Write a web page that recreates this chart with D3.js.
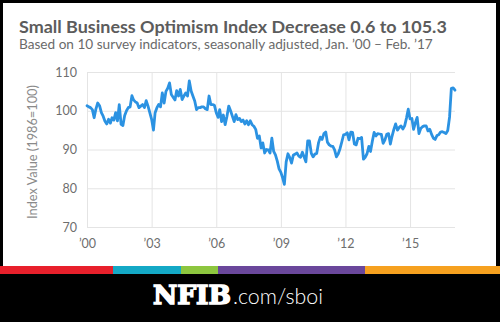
<!DOCTYPE html>
<html>
<head>
<meta charset="utf-8">
<script src="https://cdn.jsdelivr.net/npm/d3@7"></script>
<style>
  html, body { margin: 0; padding: 0; background: #000; }
  svg { display: block; }
</style>
</head>
<body>
<div id="chart"></div>
<script>
'use strict';

// Small Business Optimism Index (1986=100), seasonally adjusted, monthly from Jan 2000
var firstMonth = new Date(2000, 0, 1);
var sboi2000s = [
    101.3, 101.0, 100.8, 100.3, 98.2, 100.5, 102.0, 101.3, 99.5, 98.6, 97.3, 96.6,   // 2000
    97.8, 96.8, 98.2, 97.6, 99.5, 97.4, 101.6, 96.5, 96.2, 98.8, 100.0, 100.8,      // 2001
    101.0, 103.9, 102.8, 102.3, 102.0, 100.8, 101.2, 101.6, 100.8, 102.6, 101.2, 99.5, // 2002
    97.8, 95.0, 99.5, 100.8, 101.6, 101.0, 104.6, 102.0, 105.0, 105.8, 107.2, 104.2,  // 2003
    103.5, 102.8, 105.2, 103.8, 105.5, 102.9, 103.8, 104.6, 103.8, 107.7, 105.1, 103.8, // 2004
    102.5, 100.3, 100.8, 100.8, 101.0, 101.0, 100.5, 100.3, 103.8, 101.6, 101.6, 101.4, // 2005
    99.5, 98.3, 100.3, 97.2, 98.9, 96.4, 98.5, 101.2, 100.0, 98.6, 97.2, 99.0,       // 2006
    97.7, 98.0, 97.2, 97.6, 96.6, 97.4, 96.4, 97.4, 96.4, 96.0, 95.2, 92.9,          // 2007
    93.5, 90.4, 91.7, 89.1, 90.0, 89.9, 89.1, 92.9, 89.5, 88.6, 87.0, 85.0,          // 2008
    84.1, 82.6, 81.0, 86.8, 88.9, 87.9, 86.5, 88.6, 88.8, 89.1, 88.3, 88.0           // 2009
];
var sboi2010s = [
    89.3, 88.0, 86.8, 92.2, 92.2, 89.0, 88.1, 88.8, 89.0, 91.7, 93.2, 92.6,          // 2010
    94.1, 94.5, 91.9, 91.2, 90.9, 90.8, 89.9, 88.1, 88.9, 90.2, 92.0, 93.8,          // 2011
    93.9, 94.3, 92.5, 94.5, 94.4, 91.4, 91.2, 92.9, 92.8, 93.1, 87.5, 88.0,          // 2012
    88.9, 90.8, 89.5, 92.1, 94.4, 93.5, 94.1, 94.0, 93.9, 91.6, 92.5, 93.9,          // 2013
    94.1, 91.4, 93.4, 95.2, 96.6, 95.0, 95.7, 96.1, 95.3, 96.1, 98.1, 100.4,         // 2014
    97.9, 98.0, 95.2, 96.9, 98.3, 94.1, 95.4, 95.9, 96.1, 96.1, 94.8, 95.2,          // 2015
    93.9, 92.9, 92.6, 93.6, 93.8, 94.5, 94.6, 94.4, 94.1, 94.9, 98.4, 105.8,         // 2016
    105.9, 105.3                                                                     // 2017
];
var yTicks = [70, 80, 90, 100, 110];
var xTickYears = [2000, 2003, 2006, 2009, 2012, 2015];

var titleText = 'Small Business Optimism Index Decrease 0.6 to 105.3';
var subtitleText = 'Based on 10 survey indicators, seasonally adjusted, Jan. \u201900 \u2013 Feb. \u201917';
var yTitleText = 'Index Value (1986=100)';

var width = 500, height = 322;
var plot = { left: 87, right: 455, top: 72, bottom: 227 };
var font = 'Lato, "Open Sans", sans-serif';

// colour stripe above the footer
var stripe = [
    { x0: 0, x1: 113, fill: '#e8202b' },
    { x0: 113, x1: 181, fill: '#14a9c6' },
    { x0: 181, x1: 218, fill: '#8dc63f' },
    { x0: 218, x1: 365, fill: '#6a479b' },
    { x0: 365, x1: 500, fill: '#f6a11f' }
];

var series = sboi2000s.concat(sboi2010s).map(function (v, i) {
    return { date: d3.timeMonth.offset(firstMonth, i), value: v };
});

var svg = d3.select('#chart').append('svg')
    .attr('width', width)
    .attr('height', height);

svg.append('rect')
    .attr('width', width)
    .attr('height', height)
    .attr('fill', '#000');

svg.append('rect')
    .attr('x', 3)
    .attr('y', 3)
    .attr('width', 493)
    .attr('height', 263)
    .attr('fill', '#fff');

svg.selectAll('rect.stripe')
    .data(stripe)
    .enter().append('rect')
    .attr('class', 'stripe')
    .attr('x', function (d) { return d.x0; })
    .attr('y', 266)
    .attr('width', function (d) { return d.x1 - d.x0; })
    .attr('height', 8)
    .attr('fill', function (d) { return d.fill; });

// shrink or grow a text node's font until it spans the wanted width
function fitWidth(sel, w) {
    var size = parseFloat(sel.attr('font-size'));
    var len = sel.node().getComputedTextLength();
    if (len > 0) {
        sel.attr('font-size', (size * w / len).toFixed(2));
    }
}

var title = svg.append('text')
    .attr('x', 19)
    .attr('y', 33)
    .attr('font-family', font)
    .attr('font-weight', 700)
    .attr('font-size', 18)
    .attr('fill', '#5c5c5c')
    .text(titleText);
fitWidth(title, 428);

var subtitle = svg.append('text')
    .attr('x', 19)
    .attr('y', 49)
    .attr('font-family', font)
    .attr('font-size', 13)
    .attr('fill', '#6a6a6a')
    .text(subtitleText);
fitWidth(subtitle, 414);

var x = d3.scaleTime()
    .domain([firstMonth, series[series.length - 1].date])
    .range([plot.left, plot.right]);

var y = d3.scaleLinear()
    .domain([70, 110])
    .range([plot.bottom, plot.top]);

var yAxis = svg.append('g')
    .attr('transform', 'translate(' + plot.left + ',0)')
    .call(d3.axisLeft(y)
        .tickValues(yTicks)
        .tickSize(-(plot.right - plot.left))
        .tickPadding(10));

var xAxis = svg.append('g')
    .attr('transform', 'translate(0,' + plot.bottom + ')')
    .call(d3.axisBottom(x)
        .tickValues(xTickYears.map(function (yr) { return new Date(yr, 0, 1); }))
        .tickFormat(d3.timeFormat('\u2019%y'))
        .tickSize(-(plot.bottom - plot.top))
        .tickPadding(12));

[yAxis, xAxis].forEach(function (g) {
    g.select('.domain').remove();
    g.selectAll('.tick line')
        .attr('stroke', '#e4e4e4')
        .attr('stroke-width', 1);
    g.selectAll('.tick text')
        .attr('font-family', font)
        .attr('font-size', 12.5)
        .attr('fill', '#6e6e6e');
});

var yTitle = svg.append('text')
    .attr('transform', 'translate(37,152) rotate(-90)')
    .attr('text-anchor', 'middle')
    .attr('font-family', font)
    .attr('font-size', 12)
    .attr('fill', '#8a8a8a')
    .text(yTitleText);
fitWidth(yTitle, 134);

var line = d3.line()
    .x(function (d) { return x(d.date); })
    .y(function (d) { return y(d.value); });

svg.append('path')
    .datum(series)
    .attr('d', line)
    .attr('fill', 'none')
    .attr('stroke', '#2b92e2')
    .attr('stroke-width', 2.8)
    .attr('stroke-linejoin', 'round')
    .attr('stroke-linecap', 'round');

// footer link
var brand = svg.append('text')
    .attr('x', 153)
    .attr('y', 304)
    .attr('font-family', '"DejaVu Serif", serif')
    .attr('font-weight', 700)
    .attr('font-size', 25)
    .attr('fill', '#fff')
    .attr('stroke', '#fff')
    .attr('stroke-width', 1.6)
    .text('NFIB');
fitWidth(brand, 78);

var site = svg.append('text')
    .attr('x', 233)
    .attr('y', 304)
    .attr('font-family', font)
    .attr('font-weight', 300)
    .attr('font-size', 19)
    .attr('fill', '#fff')
    .text('.com/sboi');
fitWidth(site, 90);
</script>
</body>
</html>
